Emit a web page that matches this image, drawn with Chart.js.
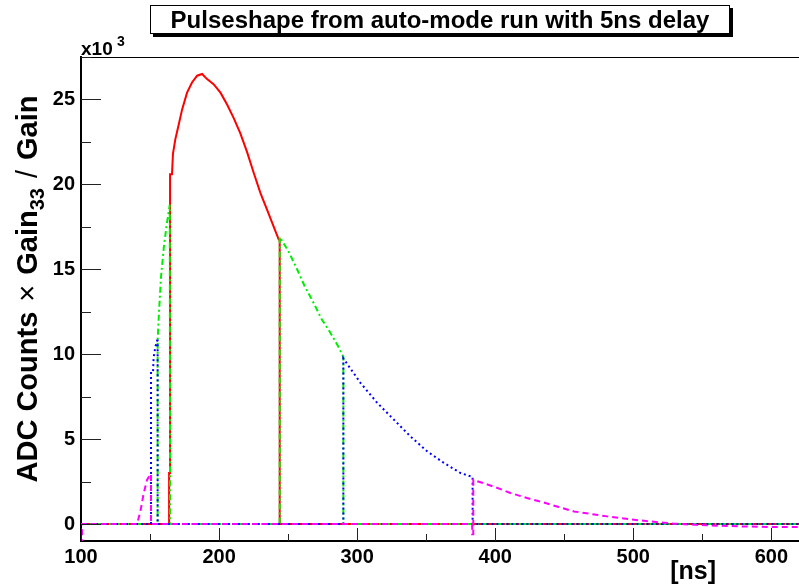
<!DOCTYPE html>
<html>
<head>
<meta charset="utf-8">
<script src="https://cdn.jsdelivr.net/npm/chart.js@4"></script>
<style>
  body { margin: 0; background: #fff; }
  canvas { display: block; }
</style>
</head>
<body>
<canvas id="c" width="799" height="588"></canvas>
<script>
const title = "Pulseshape from auto-mode run with 5ns delay";
const xTitle = "[ns]";
const xTicks = [100, 200, 300, 400, 500, 600];
const yTicks = [0, 5, 10, 15, 20, 25]; // shown as x10^3

// red: solid
const redX = [100, 163.8, 163.8, 164.5, 164.5, 165.9, 166.6, 168.3, 170.7, 173.2, 176.8, 180.4, 184.1, 187.7, 191.3, 196, 201, 205.8, 210.6, 215.4, 220.3, 225, 229.9, 234.8, 239.6, 243.2, 243.9, 243.9, 620];
const redY = [0, 0, 3000, 3000, 20600, 20600, 21800, 22650, 23500, 24400, 25400, 26000, 26400, 26500, 26200, 25900, 25400, 24700, 23900, 23000, 21900, 20700, 19500, 18500, 17500, 16750, 16750, 0, 0];

// green: dash-dot
const greenX = [100, 155.5, 155.5, 156.5, 158, 160, 162, 164.3, 164.5, 243.9, 243.9, 250, 256.5, 262, 268.6, 274, 280.7, 286, 290, 290, 620];
const greenY = [0, 0, 10800, 12500, 14600, 16300, 17600, 18800, 0, 0, 16900, 16100, 15000, 14000, 13000, 12100, 11250, 10500, 9850, 0, 0];

// blue: dotted
const blueX = [100, 150.7, 150.7, 152.2, 152.6, 153.8, 155.1, 155.5, 155.5, 290, 290, 302.5, 314.6, 326.5, 338.6, 350.7, 362.8, 374.9, 383.6, 383.6, 620];
const blueY = [0, 0, 9000, 9000, 9800, 10400, 10800, 10800, 0, 0, 9750, 8300, 7130, 6150, 5160, 4280, 3600, 3000, 2770, 0, 0];

// magenta: dashed
const magentaX = [100, 100.7, 100.7, 140.6, 143, 145.4, 147.8, 149.7, 150.7, 150.7, 383.3, 383.3, 384.1, 384.1, 399, 411, 423, 435, 446, 457, 481, 505, 529.5, 553.6, 577.8, 602, 620];
const magentaY = [-1200, -1200, 0, 0, 740, 1800, 2600, 2850, 2950, 0, 0, -600, -600, 2600, 2200, 1830, 1530, 1270, 1000, 740, 450, 210, 20, -80, -140, -180, -180];

const toPoints = (xs, ys) => xs.map((x, i) => ({ x: x, y: ys[i] }));

const FONT = "'Liberation Sans', Arial, Helvetica, sans-serif";

const rootFrame = {
  id: "rootFrame",
  afterDraw(chart) {
    const ctx = chart.ctx;
    const area = chart.chartArea;
    const xs = chart.scales.x;
    const ys = chart.scales.y;
    ctx.save();

    // top frame
    ctx.strokeStyle = "#000";
    ctx.lineWidth = 1;
    ctx.beginPath();
    ctx.moveTo(area.left, area.top + 0.5);
    ctx.lineTo(area.right, area.top + 0.5);
    ctx.stroke();

    // inward ticks
    ctx.strokeStyle = "#222";
    ctx.lineWidth = 1;
    ctx.beginPath();
    xTicks.forEach(v => {
      const px = Math.round(xs.getPixelForValue(v)) + 0.5;
      ctx.moveTo(px, area.bottom);
      ctx.lineTo(px, area.bottom - 13);
      const pm = Math.round(xs.getPixelForValue(v + 50)) + 0.5;
      if (v + 50 < xs.max) {
        ctx.moveTo(pm, area.bottom);
        ctx.lineTo(pm, area.bottom - 7);
      }
    });
    yTicks.forEach(v => {
      const py = Math.round(ys.getPixelForValue(v * 1000)) + 0.5;
      ctx.moveTo(area.left, py);
      ctx.lineTo(area.left + 20, py);
      const pm = Math.round(ys.getPixelForValue(v * 1000 + 2500)) + 0.5;
      ctx.moveTo(area.left, pm);
      ctx.lineTo(area.left + 10, pm);
    });
    ctx.stroke();

    // title box with shadow
    const bx = 150, by = 5, bw = 580, bh = 29;
    ctx.fillStyle = "#000";
    ctx.fillRect(bx + 3, by + bh, bw, 3);
    ctx.fillRect(bx + bw, by + 3, 3, bh);
    ctx.fillStyle = "#fff";
    ctx.fillRect(bx, by, bw, bh);
    ctx.strokeStyle = "#000";
    ctx.strokeRect(bx + 0.5, by + 0.5, bw - 1, bh - 1);
    ctx.fillStyle = "#000";
    ctx.font = "bold 24px " + FONT;
    ctx.textAlign = "center";
    ctx.textBaseline = "alphabetic";
    ctx.fillText(title, bx + bw / 2, 28);

    // x10^3
    ctx.textAlign = "left";
    ctx.font = "bold 19px " + FONT;
    ctx.fillText("x10", 81, 55);
    ctx.font = "bold 14px " + FONT;
    ctx.fillText("3", 117, 46);

    // x title
    ctx.textAlign = "right";
    ctx.font = "bold 25px " + FONT;
    ctx.fillText(xTitle, 716, 579);

    // y title (rotated), pieces: text, font, baseline shift, gap after
    ctx.textAlign = "left";
    const parts = [
      ["ADC Counts", "bold 29px ", 0, 10],
      ["\u00d7", "29px ", 0, 10],
      ["Gain", "bold 29px ", 0, 0],
      ["33", "bold 20px ", 7, 10],
      ["/", "29px ", 0, 10],
      ["Gain", "bold 29px ", 0, 0]
    ];
    let total = 0;
    parts.forEach(p => { ctx.font = p[1] + FONT; total += ctx.measureText(p[0]).width + p[3]; });
    ctx.translate(37, 289);
    ctx.rotate(-Math.PI / 2);
    let cx = -total / 2;
    parts.forEach(p => {
      ctx.font = p[1] + FONT;
      ctx.fillText(p[0], cx, p[2]);
      cx += ctx.measureText(p[0]).width + p[3];
    });
    ctx.restore();
  }
};

const tickFont = { family: FONT, weight: "bold", size: 20 };

new Chart(document.getElementById("c").getContext("2d"), {
  type: "line",
  data: {
    datasets: [
      { label: "red", data: toPoints(redX, redY), borderColor: "#ff0000", borderWidth: 2, order: 4 },
      { label: "green", data: toPoints(greenX, greenY), borderColor: "#00ee00", borderWidth: 2, borderDash: [6, 3, 2, 3], order: 3 },
      { label: "blue", data: toPoints(blueX, blueY), borderColor: "#0000ff", borderWidth: 2, borderDash: [2, 3], order: 2 },
      { label: "magenta", data: toPoints(magentaX, magentaY), borderColor: "#ff00ff", borderWidth: 2, borderDash: [6, 4], order: 1 }
    ]
  },
  options: {
    responsive: false,
    animation: false,
    layout: { padding: { top: 57, right: 0, left: 0, bottom: 0 } },
    elements: { point: { radius: 0 }, line: { tension: 0, fill: false } },
    plugins: { legend: { display: false }, tooltip: { enabled: false } },
    scales: {
      x: {
        type: "linear",
        min: 100,
        max: 620,
        afterBuildTicks: s => { s.ticks = xTicks.map(v => ({ value: v })); },
        afterFit: s => { s.height = 47; },
        grid: { display: false, drawTicks: false },
        border: { display: true, color: "#000", width: 2 },
        ticks: { font: tickFont, color: "#000", padding: 4, maxRotation: 0, autoSkip: false }
      },
      y: {
        type: "linear",
        min: -1000,
        max: 27500,
        afterBuildTicks: s => { s.ticks = yTicks.map(v => ({ value: v * 1000 })); },
        afterFit: s => { s.width = 81; },
        grid: { display: false, drawTicks: false },
        border: { display: true, color: "#000", width: 2 },
        ticks: { font: tickFont, color: "#000", padding: 6, autoSkip: false, callback: v => String(v / 1000) }
      }
    }
  },
  plugins: [rootFrame]
});
</script>
</body>
</html>
